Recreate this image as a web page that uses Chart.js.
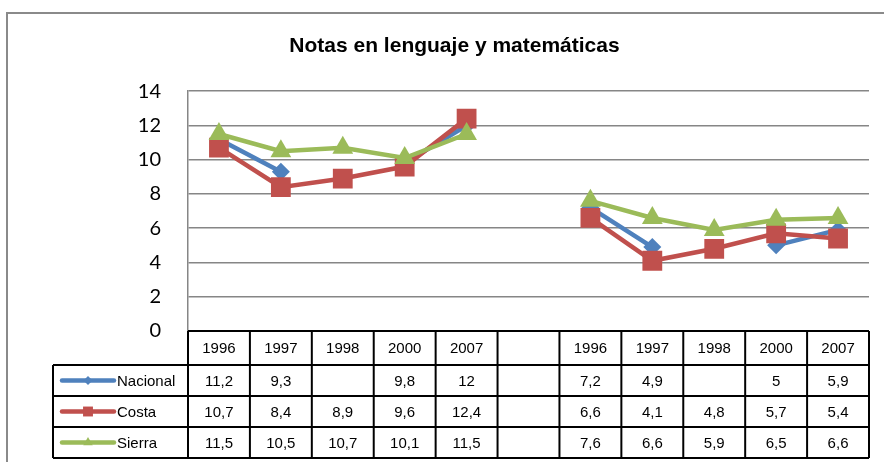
<!DOCTYPE html>
<html lang="es">
<head>
<meta charset="UTF-8">
<title>Notas en lenguaje y matemáticas</title>
<script src="https://cdn.jsdelivr.net/npm/chart.js@4"></script>
<style>
  body { margin: 0; background: #fff; }
  #wrap { width: 884px; height: 462px; }
</style>
</head>
<body>
<div id="wrap"><canvas id="notasChart" width="884" height="462"></canvas></div>
<script>
// datos (null = sin dato)
const years = ["1996", "1997", "1998", "2000", "2007", "", "1996", "1997", "1998", "2000", "2007"];
const nacional = [11.2, 9.3, null, 9.8, 12, null, 7.2, 4.9, null, 5, 5.9];
const costa = [10.7, 8.4, 8.9, 9.6, 12.4, null, 6.6, 4.1, 4.8, 5.7, 5.4];
const sierra = [11.5, 10.5, 10.7, 10.1, 11.5, null, 7.6, 6.6, 5.9, 6.5, 6.6];
const yMin = 0, yMax = 14, yStep = 2;

const series = [
  { label: "Nacional", data: nacional, color: "#4F81BD", style: "rectRot", radius: 9, legR: 4.5 },
  { label: "Costa", data: costa, color: "#C0504D", style: "rect", radius: 14, legR: 7 },
  { label: "Sierra", data: sierra, color: "#9BBB59", style: "triangle", radius: 12, legR: 5.5 }
];

const fmt = v => (v === null || v === undefined) ? "" : String(v).replace(".", ",");

function line(ctx, x1, y1, x2, y2) {
  ctx.beginPath();
  ctx.moveTo(x1, y1);
  ctx.lineTo(x2, y2);
  ctx.stroke();
}

// marco exterior + tabla de datos bajo el grafico
const dataTable = {
  id: "dataTable",
  beforeDraw(chart) {
    const ctx = chart.ctx;
    ctx.save();
    ctx.strokeStyle = "#8a8a8a";
    ctx.lineWidth = 2;
    ctx.beginPath();
    ctx.moveTo(7, chart.height);
    ctx.lineTo(7, 13);
    ctx.lineTo(chart.width, 13);
    ctx.stroke();
    ctx.restore();
  },
  afterDraw(chart) {
    const ctx = chart.ctx;
    const xs = chart.scales.x;
    const area = chart.chartArea;
    const colW = (area.right - area.left) / years.length;
    const top = area.bottom;
    const headH = 34, rowH = 31;
    const rowsTop = top + headH;
    const bottom = rowsTop + rowH * series.length;
    const legLeft = 53;

    ctx.save();
    ctx.strokeStyle = "#000";
    ctx.lineWidth = 2;
    line(ctx, area.left, top, area.right, top);
    for (let r = 0; r <= series.length; r++) {
      line(ctx, legLeft, rowsTop + r * rowH, area.right, rowsTop + r * rowH);
    }
    line(ctx, legLeft, rowsTop, legLeft, bottom);
    for (let i = 0; i <= years.length; i++) {
      const bx = i < years.length ? xs.getPixelForValue(i) - colW / 2 : xs.getPixelForValue(i - 1) + colW / 2;
      line(ctx, bx, top, bx, bottom);
    }

    ctx.font = "15px 'Liberation Sans', Arial, sans-serif";
    ctx.fillStyle = "#000";
    ctx.textAlign = "center";
    ctx.textBaseline = "middle";
    years.forEach((y, i) => ctx.fillText(y, xs.getPixelForValue(i), top + headH / 2 + 1));
    series.forEach((s, r) => {
      const cy = rowsTop + r * rowH + rowH / 2 + 1;
      s.data.forEach((v, i) => ctx.fillText(fmt(v), xs.getPixelForValue(i), cy));
    });

    // claves de leyenda
    ctx.textAlign = "left";
    series.forEach((s, r) => {
      const cy = rowsTop + r * rowH + rowH / 2;
      ctx.strokeStyle = s.color;
      ctx.fillStyle = s.color;
      ctx.lineWidth = 4.5;
      ctx.lineCap = "round";
      line(ctx, 62, cy, 114, cy);
      Chart.helpers.drawPoint(ctx, { pointStyle: s.style, radius: s.legR, borderWidth: 0, rotation: 0 }, 88, cy);
      ctx.fillStyle = "#000";
      ctx.fillText(s.label, 117, cy + 1);
    });
    ctx.restore();
  }
};

const ctx = document.getElementById("notasChart").getContext("2d");
new Chart(ctx, {
  type: "line",
  data: {
    labels: years,
    datasets: series.map((s, i) => ({
      label: s.label,
      data: s.data,
      borderColor: s.color,
      backgroundColor: s.color,
      borderWidth: 4.5,
      pointStyle: s.style,
      pointRadius: s.radius,
      pointHoverRadius: s.radius,
      pointBorderWidth: 0,
      tension: 0,
      spanGaps: false,
      order: series.length - i
    }))
  },
  options: {
    responsive: false,
    animation: false,
    layout: { padding: { left: 40, right: 15, top: 0, bottom: 131 } },
    plugins: {
      legend: { display: false },
      tooltip: { enabled: false },
      title: {
        display: true,
        text: "Notas en lenguaje y matemáticas",
        color: "#000",
        font: { family: "'Liberation Sans', Arial, sans-serif", size: 21, weight: "bold" },
        padding: { top: 34, bottom: 32 }
      }
    },
    scales: {
      x: {
        type: "category",
        display: false,
        offset: true
      },
      y: {
        min: yMin,
        max: yMax,
        afterFit: s => { s.width = 148; },
        ticks: {
          stepSize: yStep,
          color: "#000",
          padding: 27,
          font: { family: "Lato, sans-serif", size: 20 }
        },
        grid: { color: "#868686", lineWidth: 1.5, drawTicks: false },
        border: { display: true, color: "#868686", width: 1.5 }
      }
    }
  },
  plugins: [dataTable]
});
</script>
</body>
</html>
